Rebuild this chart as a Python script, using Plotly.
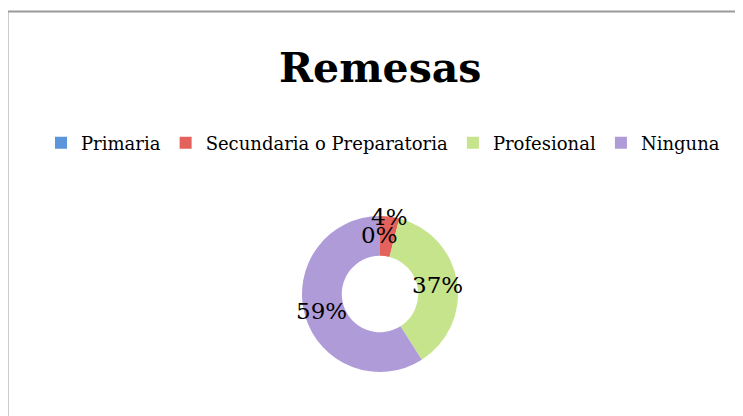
import math
import plotly.graph_objects as go

categories = ["Primaria", "Secundaria o Preparatoria", "Profesional", "Ninguna"]
values = [0, 4, 37, 59]
colors = ["#5B95DB", "#E4625C", "#C6E48C", "#AF9BD8"]
label_radius = [0.76, 1.0, 0.74, 0.78]  # fraction of outer radius (style)

W, H = 743, 416
OFF = 8  # page body margin in the browser
cx, cy, R = 380 - OFF, 294 - OFF, 78  # pixel center / radius of the donut

fig = go.Figure()
fig.add_trace(go.Pie(
    labels=categories, values=values, sort=False, direction="clockwise",
    rotation=0, hole=0.49,
    marker=dict(colors=colors, line=dict(width=0)),
    textinfo="none", hoverinfo="label+percent",
    domain=dict(x=[(cx - R) / W, (cx + R) / W], y=[(H - cy - R) / H, (H - cy + R) / H]),
))

total = sum(values)
cum = 0
for cat, v, rf in zip(categories, values, label_radius):
    mid = (cum + v / 2) / total * 2 * math.pi
    cum += v
    px = cx + rf * R * math.sin(mid)
    py = cy - rf * R * math.cos(mid)
    fig.add_annotation(
        x=px / W, y=1 - py / H, xref="paper", yref="paper",
        text=f"{round(v / total * 100)}%", showarrow=False,
        font=dict(family="DejaVu Serif", size=23, color="#000000"),
        xanchor="center", yanchor="middle",
    )

fig.add_annotation(
    x=(380 - OFF) / W, y=1 - (68 - OFF) / H, xref="paper", yref="paper", text="<b>Remesas</b>",
    showarrow=False, font=dict(family="DejaVu Serif", size=41, color="#000000"),
    xanchor="center", yanchor="middle",
)

fig.add_shape(type="rect", xref="paper", yref="paper",
              x0=(7 - OFF + 0.5) / W, x1=1.05, y0=-0.05, y1=1 - (11.5 - OFF) / H,
              line=dict(color="#9a9a9a", width=2), fillcolor="rgba(0,0,0,0)")

fig.update_layout(
    width=W, height=H, margin=dict(l=0, r=0, t=0, b=0),
    paper_bgcolor="white", plot_bgcolor="white",
    showlegend=True,
    legend=dict(orientation="h", x=(383 - OFF) / W, xanchor="center", y=1 - (143 - OFF) / H,
                yanchor="middle",
                font=dict(family="DejaVu Serif", size=18, color="#000000"),
                itemwidth=30, tracegroupgap=0, bgcolor="rgba(0,0,0,0)"),
)

fig.write_html("out.html")
